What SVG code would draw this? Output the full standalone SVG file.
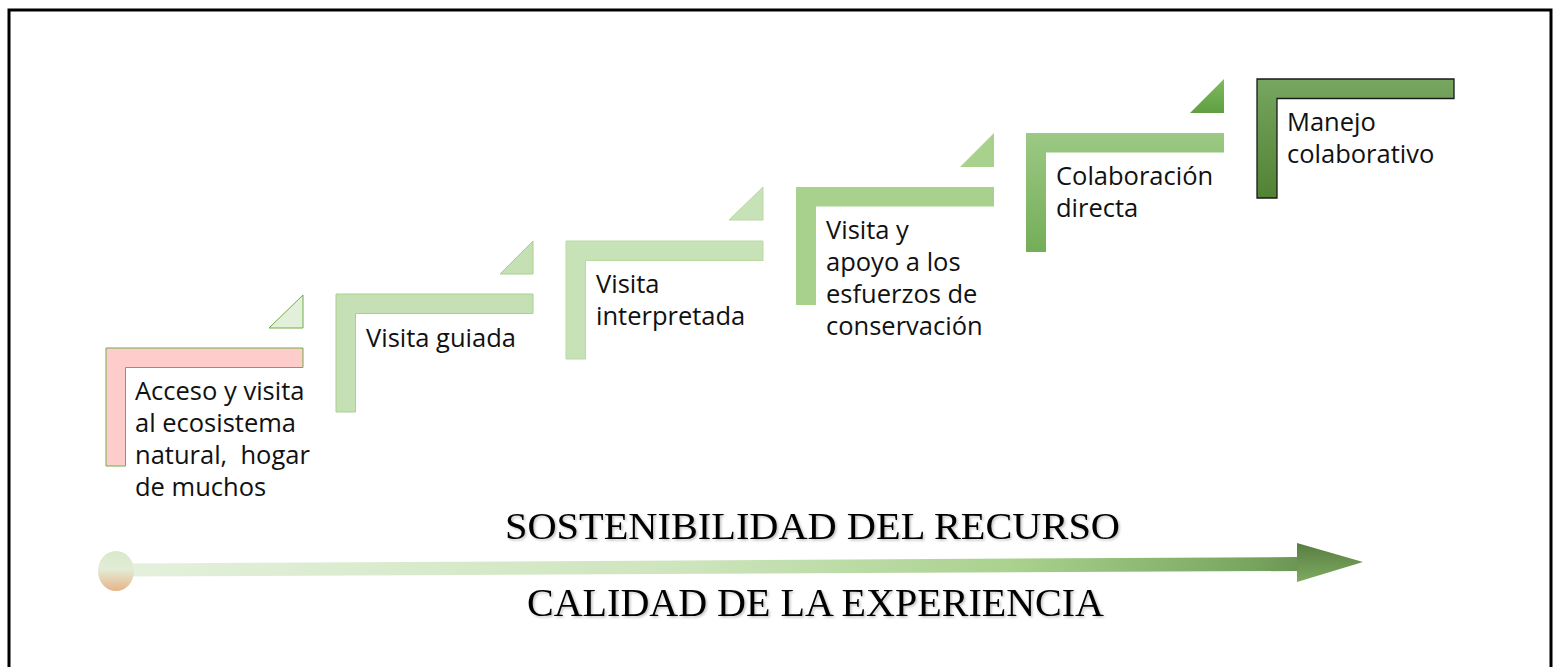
<svg xmlns="http://www.w3.org/2000/svg" width="1556" height="667" viewBox="0 0 1556 667">
  <defs>
    <style>
      .lbl { font-family: "Open Sans", "Liberation Sans", sans-serif; font-size: 25.5px; fill: #111; white-space: pre; }
      .axis { font-family: "Liberation Serif", "DejaVu Serif", serif; fill: #000; filter: url(#shadow); }
    </style>
    <linearGradient id="g5" x1="0" y1="0" x2="0" y2="1">
      <stop offset="0" stop-color="#9cc985"/>
      <stop offset="1" stop-color="#74ad57"/>
    </linearGradient>
    <linearGradient id="t5" x1="0" y1="0" x2="0" y2="1">
      <stop offset="0" stop-color="#7dbc5e"/>
      <stop offset="1" stop-color="#5f9f41"/>
    </linearGradient>
    <linearGradient id="g6" x1="0" y1="0" x2="0" y2="1">
      <stop offset="0" stop-color="#76a660"/>
      <stop offset="1" stop-color="#528233"/>
    </linearGradient>
    <linearGradient id="shaft" gradientUnits="userSpaceOnUse" x1="130" y1="0" x2="1363" y2="0">
      <stop offset="0" stop-color="#e4f0dc"/>
      <stop offset="0.45" stop-color="#cde5bd"/>
      <stop offset="0.72" stop-color="#a9d18e"/>
      <stop offset="0.9" stop-color="#7aa862"/>
      <stop offset="1" stop-color="#5a8244"/>
    </linearGradient>
    <linearGradient id="head" x1="0" y1="0" x2="0" y2="1">
      <stop offset="0" stop-color="#587c42"/>
      <stop offset="1" stop-color="#7eab5f"/>
    </linearGradient>
    <linearGradient id="dot" x1="0" y1="0" x2="0" y2="1">
      <stop offset="0" stop-color="#d6e9ca"/>
      <stop offset="0.45" stop-color="#e3ecd6"/>
      <stop offset="1" stop-color="#e6b488"/>
    </linearGradient>
    <filter id="shadow" x="-5%" y="-30%" width="110%" height="160%">
      <feDropShadow dx="1.5" dy="1.5" stdDeviation="1" flood-color="#000" flood-opacity="0.25"/>
    </filter>
  </defs>

  <rect x="9" y="10" width="1542" height="700" fill="#fff" stroke="#000" stroke-width="3"/>

  <g id="node1">
    <polygon points="303,295 303,328 269,328" fill="#e2f0d9" stroke="#70ad47" stroke-width="1"/>
    <path d="M106,348 H303 V367.5 H125.5 V466 H106 Z" fill="#ffcccc" stroke="#70ad47" stroke-width="1"/>
    <text class="lbl" x="135" y="400">Acceso y visita</text>
    <text class="lbl" x="135" y="432">al ecosistema</text>
    <text class="lbl" x="135" y="464" xml:space="preserve">natural,  hogar</text>
    <text class="lbl" x="135" y="496">de muchos</text>
  </g>

  <g id="node2">
    <polygon points="533,241 533,274 500,274" fill="#c5e0b4" stroke="#a9d18e" stroke-width="1"/>
    <path d="M336,294 H533 V313.5 H355.5 V412 H336 Z" fill="#c5e0b4" stroke="#a9d18e" stroke-width="1"/>
    <text class="lbl" x="366" y="347">Visita guiada</text>
  </g>

  <g id="node3">
    <polygon points="763,187 763,220 729,220" fill="#c8e2b7" stroke="#b9d9a4" stroke-width="1"/>
    <path d="M566,241 H763 V260.5 H585.5 V359 H566 Z" fill="#c8e2b7" stroke="#b9d9a4" stroke-width="1"/>
    <text class="lbl" x="596" y="293">Visita</text>
    <text class="lbl" x="596" y="325">interpretada</text>
  </g>

  <g id="node4">
    <polygon points="994,133 994,167 960,167" fill="#a9d18e"/>
    <path d="M796,187 H994 V206.5 H816 V305 H796 Z" fill="#a9d18e"/>
    <text class="lbl" x="826" y="239">Visita y</text>
    <text class="lbl" x="826" y="271">apoyo a los</text>
    <text class="lbl" x="826" y="303">esfuerzos de</text>
    <text class="lbl" x="826" y="335">conservación</text>
  </g>

  <g id="node5">
    <polygon points="1224,79 1224,113 1190,113" fill="url(#t5)"/>
    <path d="M1026,133 H1224 V152.5 H1046 V252 H1026 Z" fill="url(#g5)"/>
    <text class="lbl" x="1056" y="185">Colaboración</text>
    <text class="lbl" x="1056" y="217">directa</text>
  </g>

  <g id="node6">
    <path d="M1257,79 H1454 V98.5 H1277 V198 H1257 Z" fill="url(#g6)" stroke="#1a1a1a" stroke-width="1.3"/>
    <text class="lbl" x="1287" y="131">Manejo</text>
    <text class="lbl" x="1287" y="163">colaborativo</text>
  </g>

  <g id="connectors">
    <path d="M128,563.5 L1297,557 L1297,571 L128,576.5 Z" fill="url(#shaft)"/>
    <polygon points="1297,543 1363,562 1297,582" fill="url(#head)"/>
    <ellipse cx="116" cy="571" rx="18" ry="20" fill="url(#dot)"/>
  </g>

  <g id="axis-labels">
    <text class="axis" x="505" y="539" font-size="38" textLength="615" lengthAdjust="spacingAndGlyphs">SOSTENIBILIDAD DEL RECURSO</text>
    <text class="axis" x="527" y="616" font-size="40" textLength="577" lengthAdjust="spacingAndGlyphs">CALIDAD DE LA EXPERIENCIA</text>
  </g>
</svg>
